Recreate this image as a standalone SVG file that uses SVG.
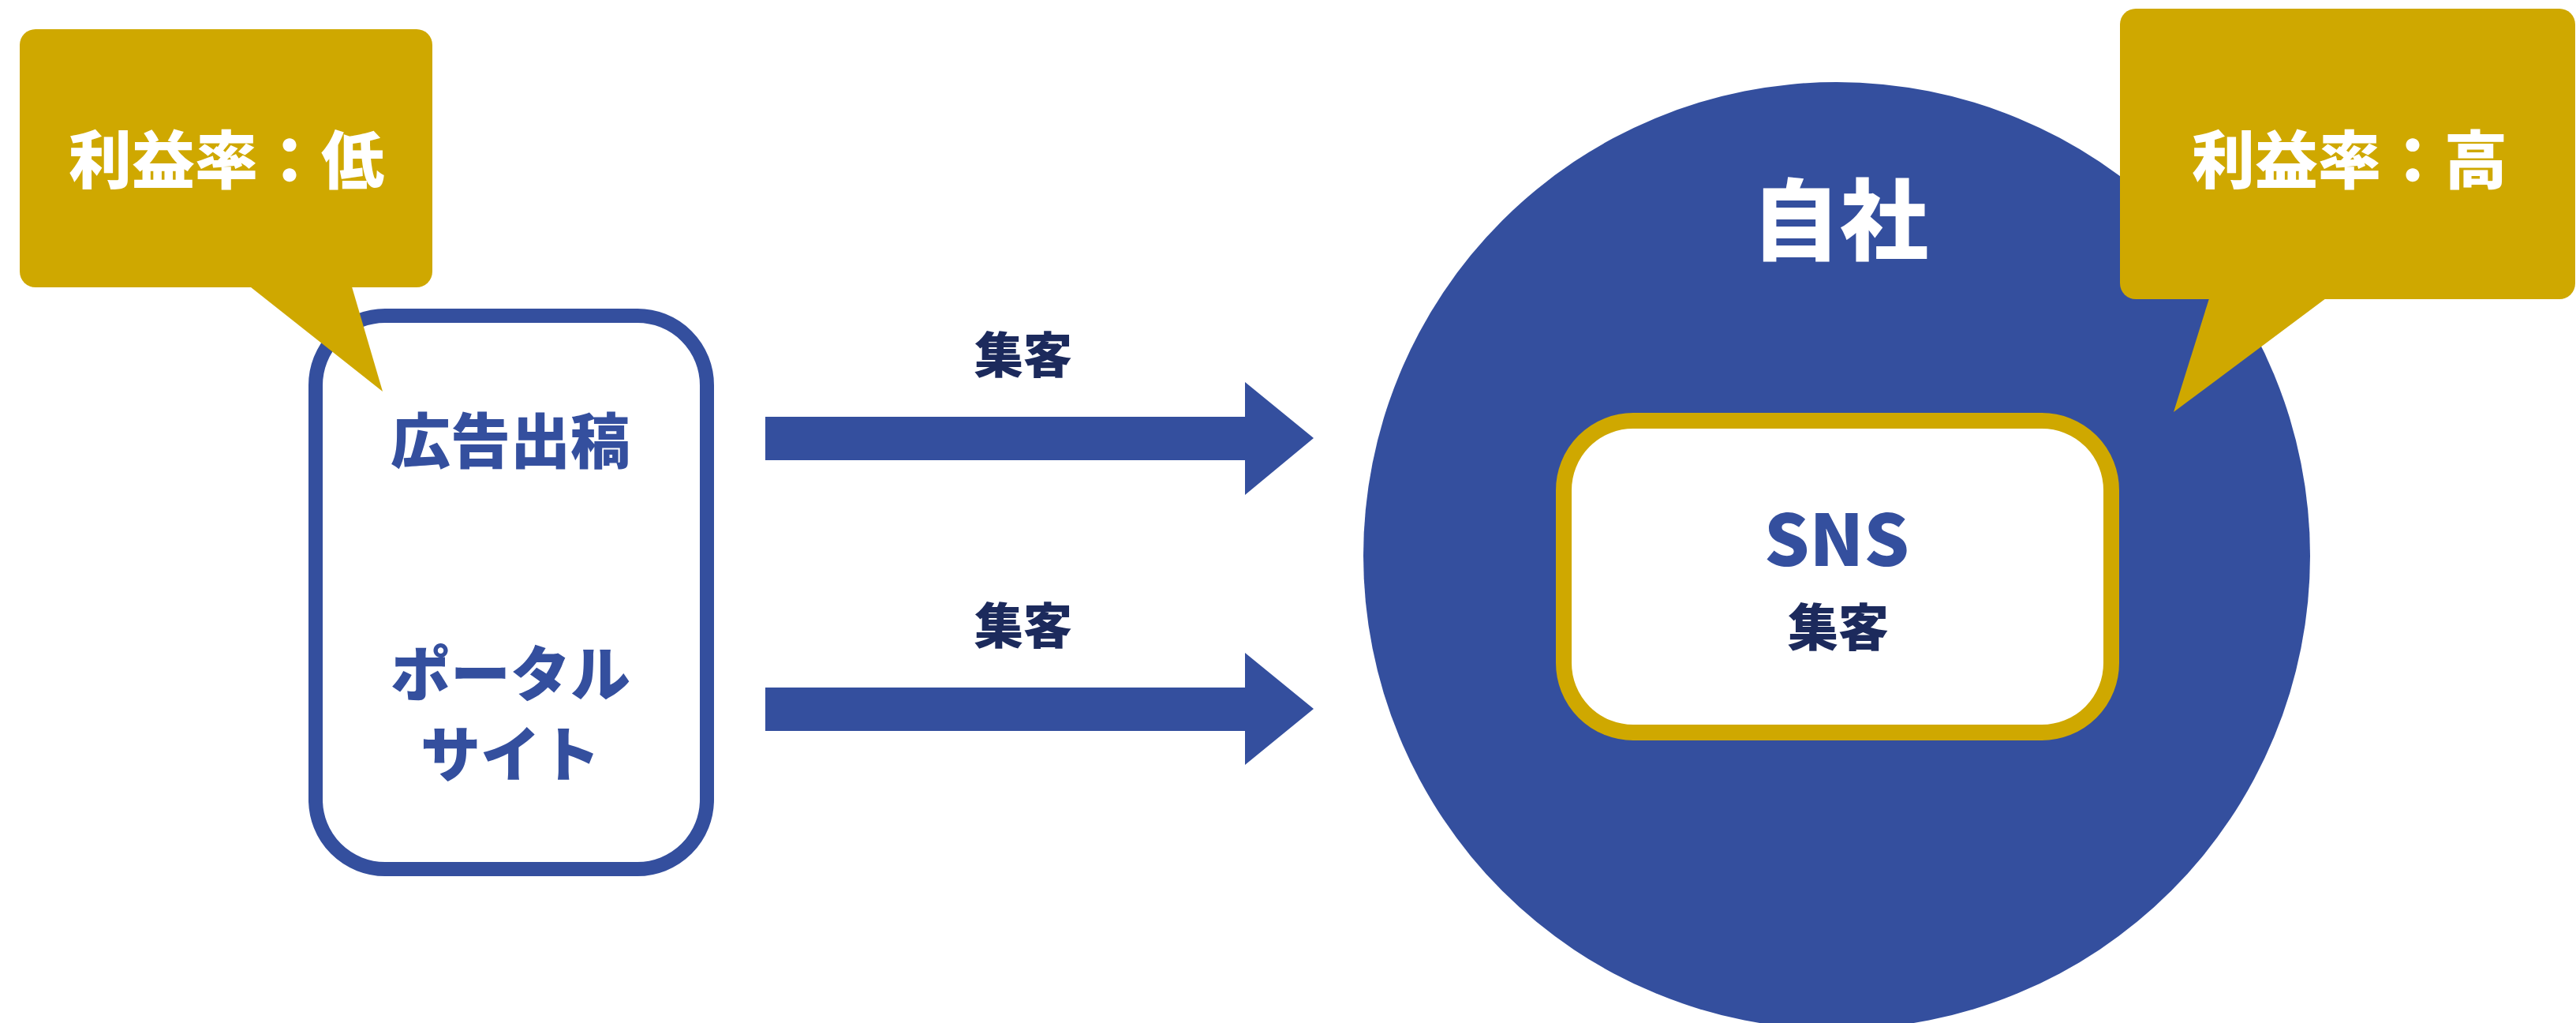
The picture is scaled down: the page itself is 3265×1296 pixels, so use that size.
<svg xmlns="http://www.w3.org/2000/svg" width="3265" height="1296" viewBox="0 0 3265 1296">
  <style>
    text { font-family: "Noto Sans CJK JP", "Noto Sans", sans-serif; font-weight: 900; text-anchor: middle; }
    .blue { fill: #344f9e; }
    .gold { fill: #cfa800; }
    .white { fill: #ffffff; }
    .navy { fill: #1c2a5c; }
  </style>
  <rect x="0" y="0" width="3265" height="1296" fill="#ffffff"/>

  <g id="jisha">
    <circle cx="2328" cy="704" r="600" class="blue"/>
    <text x="2332" y="321" font-size="112" class="white">自社</text>
  </g>

  <g id="sns">
    <rect x="1982" y="533" width="694" height="395" rx="88" fill="#ffffff" stroke="#cfa800" stroke-width="20"/>
    <text x="2328" y="717" font-size="90" class="blue">SNS</text>
    <text x="2330" y="818" font-size="64" class="navy">集客</text>
  </g>

  <g id="external">
    <rect x="400" y="400" width="496" height="701" rx="88" fill="#ffffff" stroke="#344f9e" stroke-width="18"/>
    <text x="647" y="587" font-size="76" class="blue">広告出稿</text>
    <text x="647" y="882" font-size="76" class="blue">ポータル</text>
    <text x="647" y="984" font-size="76" class="blue">サイト</text>
  </g>

  <g id="callout-low">
    <rect x="25" y="37" width="523" height="327" rx="20" class="gold"/>
    <polygon points="313,360 485,496 445,360" class="gold"/>
    <text x="287" y="232" font-size="80" class="white">利益率：低</text>
  </g>

  <g id="callout-high">
    <rect x="2687" y="11" width="577" height="368" rx="20" class="gold"/>
    <polygon points="2801,375 2755,522 2952,375" class="gold"/>
    <text x="2978" y="232" font-size="80" class="white">利益率：高</text>
  </g>

  <g id="connectors">
    <polygon points="970,528 1578,528 1578,484 1665,555 1578,627 1578,583 970,583" class="blue"/>
    <text x="1297" y="473" font-size="62" class="navy">集客</text>
    <polygon points="970,871 1578,871 1578,827 1665,898 1578,969 1578,926 970,926" class="blue"/>
    <text x="1297" y="816" font-size="62" class="navy">集客</text>
  </g>
</svg>
